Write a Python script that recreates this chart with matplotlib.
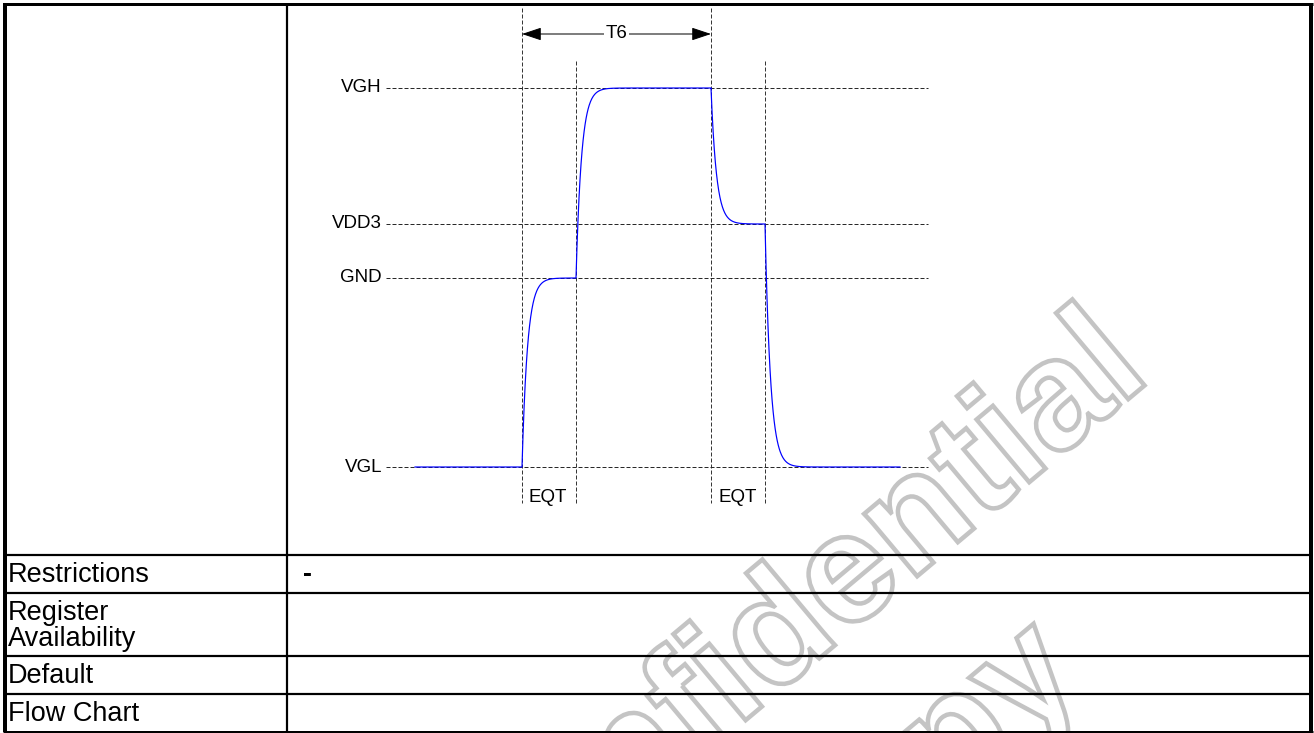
import numpy as np
import matplotlib
matplotlib.use("Agg")
import matplotlib.pyplot as plt
from matplotlib.textpath import TextPath
from matplotlib.patches import PathPatch
from matplotlib.font_manager import FontProperties
from matplotlib.transforms import Affine2D

plt.rcParams['font.family'] = ['Liberation Sans', 'DejaVu Sans']
plt.rcParams['lines.scale_dashes'] = False

W, H = 1314, 733

# ---- data ----
level_names = ['VGH', 'VDD3', 'GND', 'VGL']
level_pos = [88, 224, 278, 467]          # vertical position of each level in the diagram
edge_times = [522, 576, 711, 765]        # EQT start/end and T6 boundaries
wave_sequence = ['VGL', 'GND', 'VGH', 'VDD3', 'VGL']
wave_start, wave_end = 415, 900
settle_tau = 5.5
ref_x0, ref_x1 = 386, 928

row_labels = ['Restrictions', 'Register\nAvailability', 'Default', 'Flow Chart']
row_values = ['-', '', '', '']
row_lines = [555, 593, 656, 694]
table_bottom = 732
col_split = 287

eqt_label = 'EQT'
period_label = 'T6'
watermark_lines = ['Confidential', 'Copy']

fig = plt.figure(figsize=(W / 100, H / 100), dpi=100)
ax = fig.add_axes([0, 0, 1, 1])
ax.set_xlim(0, W)
ax.set_ylim(H, 0)
ax.axis('off')

px = 0.72  # points per pixel

# ---- watermark (outlined text) ----
wm_font = FontProperties(family='Liberation Sans', weight='bold')
def outline_text(s, x0, y0, size, angle):
    tp = TextPath((0, 0), s, size=size, prop=wm_font)
    tr = Affine2D().rotate_deg(angle).scale(1, -1).translate(x0, y0) + ax.transData
    ax.add_patch(PathPatch(tp, transform=tr, facecolor='none',
                           edgecolor='#c4c4c4', lw=4.5 * px, zorder=1))
outline_text(watermark_lines[0], 467, 954, 155, 40)
outline_text(watermark_lines[1], 790, 935, 155, 40)

# ---- table ----
lc = 'black'
ax.plot([5, 5], [3, table_bottom], color=lc, lw=4 * px, solid_capstyle='butt', zorder=5)
ax.plot([1311, 1311], [3, table_bottom], color=lc, lw=4 * px, solid_capstyle='butt', zorder=5)
ax.plot([3, 1313], [4, 4], color=lc, lw=3 * px, solid_capstyle='butt', zorder=5)
ax.plot([3, 1313], [table_bottom, table_bottom], color=lc, lw=3 * px, solid_capstyle='butt', zorder=5)
for y in row_lines:
    ax.plot([3, 1313], [y, y], color=lc, lw=2.2 * px, solid_capstyle='butt', zorder=5)
ax.plot([col_split, col_split], [3, table_bottom], color=lc, lw=2.2 * px, solid_capstyle='butt', zorder=5)

bounds = row_lines + [table_bottom]
for i, (lab, val) in enumerate(zip(row_labels, row_values)):
    yc = (bounds[i] + bounds[i + 1]) / 2 + 1
    ax.text(8, yc, lab, fontsize=19.5, ha='left', va='center', linespacing=1.0, zorder=6)
    if val:
        ax.text(303, yc, val, fontsize=19.5, ha='left', va='center', fontweight='bold', zorder=6)

# ---- timing diagram ----
lvl = dict(zip(level_names, level_pos))
dash = (0, (4 * px, 2 * px))
for name in level_names:
    y = lvl[name]
    ax.plot([ref_x0, ref_x1], [y, y], color='#111111', lw=0.9 * px, linestyle=dash, zorder=3)
    ax.text(ref_x0 - 4, y, name, fontsize=13.5, ha='right', va='center', zorder=4)

# vertical markers
v_tops = [8, 61, 8, 61]
for t, top in zip(edge_times, v_tops):
    ax.plot([t, t], [top, 503], color='#222222', lw=0.9 * px, linestyle=dash, zorder=3)

# EQT labels
for t in (edge_times[0], edge_times[2]):
    ax.text(t + 7, 497, eqt_label, fontsize=13.5, ha='left', va='center', zorder=4)

# T6 arrow
ya = 34
ax.annotate('', xy=(edge_times[0], ya), xytext=(edge_times[2], ya),
            arrowprops=dict(arrowstyle='<|-|>,head_length=1.2,head_width=0.4',
                            color='black', lw=1.0 * px, shrinkA=0, shrinkB=0), zorder=4)
ax.text((edge_times[0] + edge_times[2]) / 2, ya, period_label, fontsize=13.5, ha='center',
        va='center', zorder=5, bbox=dict(boxstyle='square,pad=0.08', fc='white', ec='none'))

# waveform
xs = [np.linspace(wave_start, edge_times[0], 50)]
ys = [np.full(50, lvl[wave_sequence[0]], dtype=float)]
seg_ends = edge_times[1:] + [wave_end]
for i, t0 in enumerate(edge_times):
    v0 = lvl[wave_sequence[i]]
    v1 = lvl[wave_sequence[i + 1]]
    t = np.linspace(t0, seg_ends[i], 400)
    xs.append(t)
    ys.append(v1 + (v0 - v1) * np.exp(-(t - t0) / settle_tau))
ax.plot(np.concatenate(xs), np.concatenate(ys), color='#0000ff', lw=1.2 * px, zorder=4)

fig.savefig('out.png', dpi=100)
